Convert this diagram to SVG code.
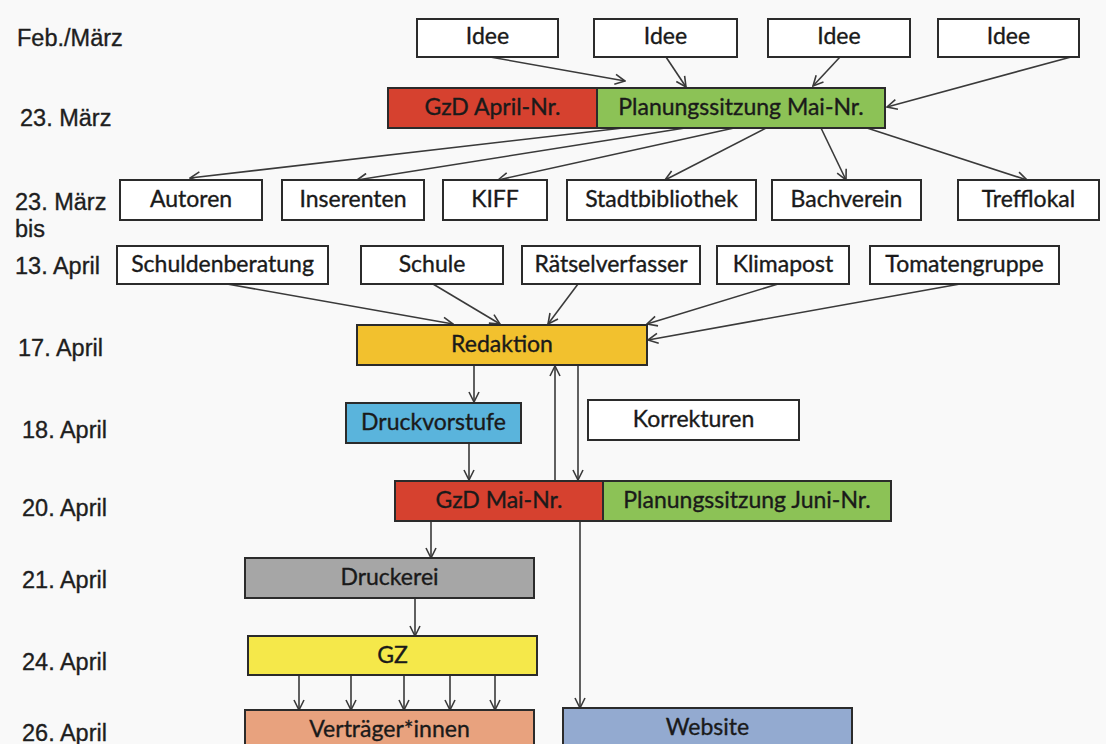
<svg xmlns="http://www.w3.org/2000/svg" width="1106" height="744" viewBox="0 0 1106 744">
<defs>
<style>
.bx{stroke:#2b2b2b;stroke-width:2}
.w{fill:#ffffff}
.t{font-family:Lato,"Open Sans","Liberation Sans",sans-serif;font-size:23px;fill:#1a1a1a;stroke:#1a1a1a;stroke-width:0.35;text-anchor:middle}
.lbl{font-family:"Liberation Sans",Arial,sans-serif;font-size:23.5px;fill:#1e1e1e;stroke:#1e1e1e;stroke-width:0.35}
.c{stroke:#3a3a3a;stroke-width:1.6;fill:none;marker-end:url(#ah)}
</style>
<marker id="ah" viewBox="0 0 12 12" refX="11" refY="6" markerWidth="12" markerHeight="12" markerUnits="userSpaceOnUse" orient="auto">
<path d="M1,1 L11,6 L1,11" fill="none" stroke="#3a3a3a" stroke-width="1.6"/>
</marker>
</defs>
<rect x="0" y="0" width="1106" height="744" fill="#f9f9f9"/>

<g id="labels">
<text class="lbl" x="17" y="46">Feb./März</text>
<text class="lbl" x="20" y="126">23. März</text>
<text class="lbl" x="15" y="210">23. März</text>
<text class="lbl" x="15" y="237">bis</text>
<text class="lbl" x="15" y="274">13. April</text>
<text class="lbl" x="18" y="356">17. April</text>
<text class="lbl" x="22" y="438">18. April</text>
<text class="lbl" x="22" y="516">20. April</text>
<text class="lbl" x="22" y="588">21. April</text>
<text class="lbl" x="22" y="670">24. April</text>
<text class="lbl" x="22" y="741">26. April</text>
</g>

<g id="connectors">
<line class="c" x1="490" y1="57" x2="625" y2="81"/>
<line class="c" x1="666" y1="57" x2="686" y2="87"/>
<line class="c" x1="840" y1="57" x2="813" y2="86"/>
<line class="c" x1="1071" y1="57" x2="887" y2="107"/>
<line class="c" x1="623" y1="128" x2="190" y2="178"/>
<line class="c" x1="685" y1="128" x2="357" y2="180"/>
<line class="c" x1="734" y1="128" x2="498" y2="180"/>
<line class="c" x1="766" y1="128" x2="665" y2="180"/>
<line class="c" x1="821" y1="128" x2="846" y2="180"/>
<line class="c" x1="867" y1="128" x2="1027" y2="180"/>
<line class="c" x1="227" y1="284" x2="453" y2="324"/>
<line class="c" x1="433" y1="284" x2="500" y2="324"/>
<line class="c" x1="578" y1="284" x2="548" y2="324"/>
<line class="c" x1="778" y1="284" x2="647" y2="324"/>
<line class="c" x1="960" y1="284" x2="648" y2="340"/>
<line class="c" x1="474" y1="365" x2="474" y2="402"/>
<line class="c" x1="469" y1="443" x2="469" y2="480"/>
<line class="c" x1="555" y1="480" x2="555" y2="366"/>
<line class="c" x1="578" y1="365" x2="578" y2="480"/>
<line class="c" x1="580" y1="521" x2="580" y2="708"/>
<line class="c" x1="431" y1="521" x2="431" y2="558"/>
<line class="c" x1="415" y1="598" x2="415" y2="636"/>
<line class="c" x1="299" y1="675" x2="299" y2="710"/>
<line class="c" x1="351" y1="675" x2="351" y2="710"/>
<line class="c" x1="404" y1="675" x2="404" y2="710"/>
<line class="c" x1="450" y1="675" x2="450" y2="710"/>
<line class="c" x1="495" y1="675" x2="495" y2="710"/>
</g>

<g id="idee1"><rect class="bx w" x="417" y="19" width="141" height="38"/><text class="t" x="487.5" y="44">Idee</text></g>
<g id="idee2"><rect class="bx w" x="594" y="19" width="143" height="38"/><text class="t" x="665.5" y="44">Idee</text></g>
<g id="idee3"><rect class="bx w" x="768" y="19" width="142" height="38"/><text class="t" x="839" y="44">Idee</text></g>
<g id="idee4"><rect class="bx w" x="938" y="19" width="141" height="38"/><text class="t" x="1008.5" y="44">Idee</text></g>

<g id="gzd-april"><rect class="bx" x="388" y="88" width="209" height="40" fill="#d6412f"/><text class="t" x="492.5" y="115">GzD April-Nr.</text></g>
<g id="planung-mai"><rect class="bx" x="597" y="88" width="288" height="40" fill="#8cc256"/><text class="t" x="741" y="115">Planungssitzung Mai-Nr.</text></g>

<g id="autoren"><rect class="bx w" x="120" y="180" width="142" height="40"/><text class="t" x="191" y="207">Autoren</text></g>
<g id="inserenten"><rect class="bx w" x="282" y="180" width="142" height="40"/><text class="t" x="353" y="207">Inserenten</text></g>
<g id="kiff"><rect class="bx w" x="443" y="180" width="104" height="40"/><text class="t" x="495" y="207">KIFF</text></g>
<g id="stadtbibliothek"><rect class="bx w" x="567" y="180" width="189" height="40"/><text class="t" x="661.5" y="207">Stadtbibliothek</text></g>
<g id="bachverein"><rect class="bx w" x="772" y="180" width="149" height="40"/><text class="t" x="846.5" y="207">Bachverein</text></g>
<g id="trefflokal"><rect class="bx w" x="958" y="180" width="141" height="40"/><text class="t" x="1028.5" y="207">Trefflokal</text></g>

<g id="schuldenberatung"><rect class="bx w" x="117" y="246" width="211" height="38"/><text class="t" x="222.5" y="272">Schuldenberatung</text></g>
<g id="schule"><rect class="bx w" x="361" y="246" width="142" height="38"/><text class="t" x="432" y="272">Schule</text></g>
<g id="raetselverfasser"><rect class="bx w" x="522" y="246" width="178" height="38"/><text class="t" x="611" y="272">Rätselverfasser</text></g>
<g id="klimapost"><rect class="bx w" x="717" y="246" width="132" height="38"/><text class="t" x="783" y="272">Klimapost</text></g>
<g id="tomatengruppe"><rect class="bx w" x="870" y="246" width="189" height="38"/><text class="t" x="964.5" y="272">Tomatengruppe</text></g>

<g id="redaktion"><rect class="bx" x="357" y="325" width="290" height="40" fill="#f2c12e"/><text class="t" x="502" y="352">Redaktion</text></g>
<g id="druckvorstufe"><rect class="bx" x="346" y="403" width="175" height="40" fill="#5ab4dc"/><text class="t" x="433.5" y="430">Druckvorstufe</text></g>
<g id="korrekturen"><rect class="bx w" x="588" y="400" width="211" height="40"/><text class="t" x="693.5" y="427">Korrekturen</text></g>
<g id="gzd-mai"><rect class="bx" x="395" y="481" width="208" height="40" fill="#d6412f"/><text class="t" x="499" y="508">GzD Mai-Nr.</text></g>
<g id="planung-juni"><rect class="bx" x="603" y="481" width="288" height="40" fill="#8cc256"/><text class="t" x="747" y="508">Planungssitzung Juni-Nr.</text></g>
<g id="druckerei"><rect class="bx" x="245" y="558" width="289" height="40" fill="#a6a6a6"/><text class="t" x="389.5" y="585">Druckerei</text></g>
<g id="gz"><rect class="bx" x="248" y="636" width="289" height="39" fill="#f5e84a"/><text class="t" x="392.5" y="663">GZ</text></g>
<g id="vertraeger"><rect class="bx" x="245" y="710" width="289" height="44" fill="#e8a27e"/><text class="t" x="389.5" y="737">Verträger*innen</text></g>
<g id="website"><rect class="bx" x="563" y="708" width="289" height="46" fill="#93aad0"/><text class="t" x="707.5" y="735">Website</text></g>
</svg>
